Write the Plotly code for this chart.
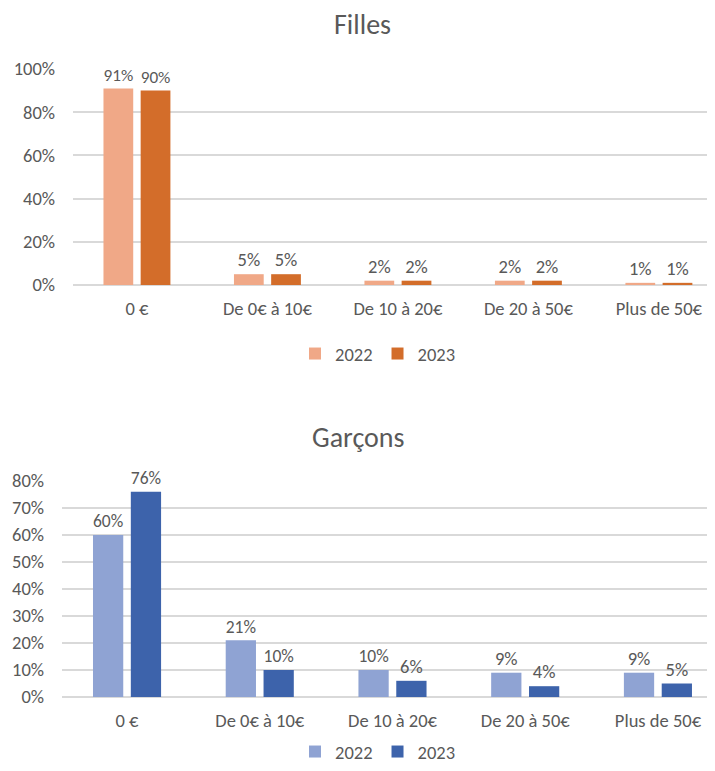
import plotly.graph_objects as go

categories = ["0 €", "De 0€ à 10€", "De 10 à 20€", "De 20 à 50€", "Plus de 50€"]
filles_2022 = [0.91, 0.05, 0.02, 0.02, 0.01]
filles_2023 = [0.90, 0.05, 0.02, 0.02, 0.01]
garcons_2022 = [0.60, 0.21, 0.10, 0.09, 0.09]
garcons_2023 = [0.76, 0.10, 0.06, 0.04, 0.05]
years = ["2022", "2023"]

FONT = "Calibri, Carlito, Lato, sans-serif"
GRAY = "#595959"
GRID = "#d9d9d9"
FS = 18.5

# page has an 8px body margin
OFF = 8
W, H = 715 - OFF, 771 - OFF
def fx(px):
    return (px - OFF) / W
def fy(py):
    return 1 - (py - OFF) / H

fig = go.Figure()

def add(vals, name, color, xa, ya, leg):
    fig.add_trace(go.Bar(
        x=list(range(len(categories))), y=vals, name=name,
        marker=dict(color=color, line=dict(width=0)),
        text=[f"{round(v*100)}%" for v in vals], textposition="outside",
        textfont=dict(color=GRAY, size=FS, family=FONT), cliponaxis=False,
        xaxis=xa, yaxis=ya, legend=leg, offsetgroup=name,
    ))

add(filles_2022, years[0], "#F0A887", "x", "y", "legend")
add(filles_2023, years[1], "#D36D2A", "x", "y", "legend")
add(garcons_2022, years[0], "#8FA3D3", "x2", "y2", "legend2")
add(garcons_2023, years[1], "#3D63AB", "x2", "y2", "legend2")

tf = dict(color=GRAY, size=FS, family=FONT)
xcommon = dict(showline=False, showgrid=False, tickmode="array",
               tickvals=list(range(len(categories))), ticktext=categories,
               tickfont=tf, ticklabelstandoff=10, range=[-0.49, 4.43])
ycommon = dict(showline=False, tickformat=".0%", tickfont=tf,
               gridcolor=GRID, gridwidth=1.5, zeroline=True, zerolinecolor=GRID,
               zerolinewidth=1.5, ticklabelstandoff=17)

fig.update_layout(
    width=W, height=H, margin=dict(l=0, r=0, t=0, b=0, autoexpand=False),
    paper_bgcolor="white", plot_bgcolor="white",
    barmode="group", bargap=0.43, bargroupgap=0.2,
    font=dict(family=FONT, color=GRAY),
    xaxis=dict(domain=[fx(73), 1], anchor="y", **xcommon),
    yaxis=dict(domain=[fy(285), fy(69)], anchor="x", range=[0, 1], dtick=0.2, **ycommon),
    xaxis2=dict(domain=[fx(62), 1], anchor="y2", **xcommon),
    yaxis2=dict(domain=[fy(697), fy(481)], anchor="x2", range=[0, 0.8], dtick=0.1, **ycommon),
    legend=dict(orientation="h", x=fx(378), xanchor="center", y=fy(354), yanchor="middle",
                font=tf, itemwidth=30, tracegroupgap=0),
    legend2=dict(orientation="h", x=fx(378), xanchor="center", y=0, yanchor="bottom",
                 font=tf, itemwidth=30, tracegroupgap=0),
    annotations=[
        dict(text="Filles", x=fx(362), y=fy(25), xref="paper", yref="paper", showarrow=False,
             yanchor="middle", xanchor="center", font=dict(size=28, color=GRAY, family=FONT)),
        dict(text="Garçons", x=fx(358), y=fy(437), xref="paper", yref="paper", showarrow=False,
             yanchor="middle", xanchor="center", font=dict(size=28, color=GRAY, family=FONT)),
    ],
)

fig.write_html("out.html")
